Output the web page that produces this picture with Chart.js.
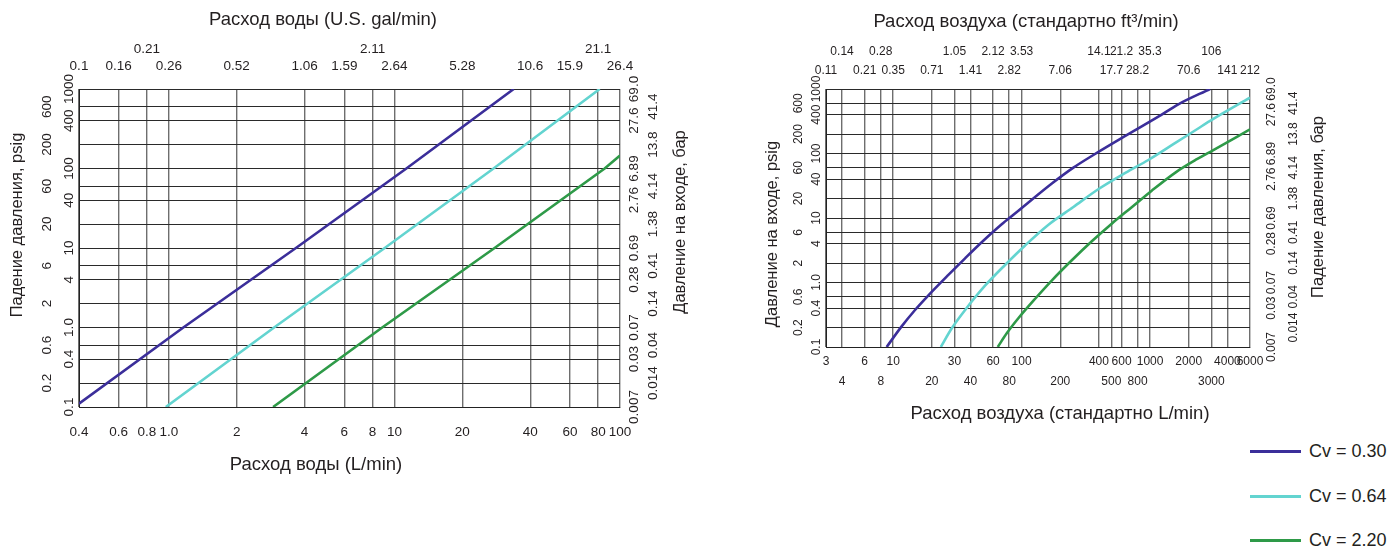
<!DOCTYPE html>
<html>
<head>
<meta charset="utf-8">
<script src="https://cdn.jsdelivr.net/npm/chart.js@4.4.0/dist/chart.umd.min.js"></script>
<style>
  body { margin: 0; background: #fff; width: 1393px; height: 551px; overflow: hidden; position: relative;
         font-family: "Liberation Sans", Arial, sans-serif; color: #231f20; }
  #waterChart { position: absolute; left: 0; top: 0; }
  #airChart { position: absolute; left: 700px; top: 0; }
  .leg { position: absolute; left: 1250px; height: 20px; font-size: 18px; line-height: 20px; white-space: nowrap; }
  .leg span.line { position: absolute; left: 0; top: 9px; width: 51px; height: 3px; }
  .leg span.txt { position: absolute; left: 59px; top: 0; }
</style>
</head>
<body>
<canvas id="waterChart" width="700" height="500"></canvas>
<canvas id="airChart" width="693" height="440"></canvas>
<div id="legend"></div>
<script>
const FONT = '"Liberation Sans", Arial, sans-serif';

// pressure axis (shared by both charts)
const psig = [0.1, 0.2, 0.4, 0.6, 1, 2, 4, 6, 10, 20, 40, 60, 100, 200, 400, 600, 1000];
const psigLabels = ['0.1','0.2','0.4','0.6','1.0','2','4','6','10','20','40','60','100','200','400','600','1000'];
const barLabels = ['0.007','0.014','0.03','0.04','0.07','0.14','0.28','0.41','0.69','1.38','2.76','4.14','6.89','13.8','27.6','41.4','69.0'];
const psigRows = [0,1,0,1,0,1,0,1,0,1,0,1,0,1,0,1,0]; // 0 = next to the plot

// water flow axis
const waterLpm = [0.4, 0.6, 0.8, 1, 2, 4, 6, 8, 10, 20, 40, 60, 80, 100];
const waterLpmLabels = ['0.4','0.6','0.8','1.0','2','4','6','8','10','20','40','60','80','100'];
const waterGpmLabels = ['0.1','0.16','0.21','0.26','0.52','1.06','1.59','2.11','2.64','5.28','10.6','15.9','21.1','26.4'];
const waterGpmRows = [0,0,1,0,0,0,0,1,0,0,0,0,1,0];

// air flow axis
const airLpm = [3, 4, 6, 8, 10, 20, 30, 40, 60, 80, 100, 200, 400, 500, 600, 800, 1000, 2000, 3000, 4000, 6000];
const airLpmLabels = ['3','4','6','8','10','20','30','40','60','80','100','200','400','500','600','800','1000','2000','3000','4000','6000'];
const airLpmRows = [0,1,0,1,0,1,0,1,0,1,0,1,0,1,0,1,0,0,1,0,0];
const airCfmLabels = ['0.11','0.14','0.21','0.28','0.35','0.71','1.05','1.41','2.12','2.82','3.53','7.06','14.1','17.7','21.2','28.2','35.3','70.6','106','141','212'];
const airCfmRows = [0,1,0,1,0,0,1,0,1,0,1,0,1,0,1,0,1,0,1,0,0];

// series
const seriesNames = ['Cv = 0.30', 'Cv = 0.64', 'Cv = 2.20'];
const seriesColors = ['#3b2e9a', '#63d4d0', '#2e9a48'];

// water: flow L/min vs pressure drop psig
const waterQ030 = [0.4, 1.16, 3.66, 11.3, 33.8];
const waterP030 = [0.11, 1, 10, 100, 1000];
const waterQ064 = [0.97, 2.93, 9.06, 27.5, 81.3];
const waterP064 = [0.1, 1, 10, 100, 1000];
const waterQ220 = [2.9, 8.83, 27.8, 85.5, 100];
const waterP220 = [0.1, 1, 10, 100, 146];

// air: flow std L/min vs inlet pressure psig
const airQ030 = [8.9, 11.6, 14.8, 18.2, 26.9, 36.3, 48.9, 70, 87.8, 173, 253, 362, 647, 1160, 1660, 2930];
const airP030 = [0.1, 0.207, 0.375, 0.59, 1.31, 2.37, 4.2, 7.98, 11.5, 34.5, 60.3, 94.8, 189, 372, 579, 1000];
const airQ064 = [23.5, 28.6, 36.7, 51.9, 74.3, 106, 161, 253, 395, 647, 970, 1585, 2335, 3110, 6000];
const airP064 = [0.1, 0.195, 0.385, 0.891, 1.87, 3.72, 7.79, 14.8, 27.9, 50.4, 79.3, 147, 240, 343, 733];
const airQ220 = [65.2, 76.6, 94.3, 127, 173, 246, 352, 503, 720, 1030, 1585, 2335, 3110, 6000];
const airP220 = [0.1, 0.163, 0.279, 0.555, 1.09, 2.21, 4.35, 8.16, 14.7, 26.5, 51.1, 82.2, 113, 237];

const pts = (xs, ys) => xs.map((x, i) => ({x: x, y: ys[i]}));

function makeSets(list, smooth) {
  return list.map((s, i) => ({
    label: seriesNames[i],
    data: pts(s[0], s[1]),
    showLine: true,
    borderColor: seriesColors[i],
    borderWidth: 2.6,
    pointRadius: 0,
    cubicInterpolationMode: smooth ? 'monotone' : 'default',
    tension: 0,
    fill: false
  }));
}

function logAxis(min, max, values, gridColor, gridWidth) {
  return {
    type: 'logarithmic',
    min: min,
    max: max,
    afterBuildTicks: (s) => { s.ticks = values.map(v => ({value: v})); },
    ticks: {display: false},
    grid: {color: gridColor, lineWidth: gridWidth, drawTicks: false},
    border: {color: '#222', width: 1}
  };
}

// draws the two-row tick labels and the axis titles
const axisText = {
  id: 'axisText',
  afterDraw(chart, args, o) {
    const ctx = chart.ctx;
    const xs = chart.scales.x, ys = chart.scales.y, a = chart.chartArea;
    ctx.save();
    ctx.fillStyle = '#231f20';
    ctx.textAlign = 'center';
    ctx.textBaseline = 'middle';
    ctx.font = o.tickFont + 'px ' + FONT;

    o.bottom.labels.forEach((t, i) => {
      const r = o.bottom.rows ? o.bottom.rows[i] : 0;
      ctx.fillText(t, xs.getPixelForValue(o.xValues[i]), a.bottom + o.bottom.off[r]);
    });
    o.top.labels.forEach((t, i) => {
      ctx.fillText(t, xs.getPixelForValue(o.xValues[i]), a.top - o.top.off[o.top.rows[i]]);
    });
    const vert = (t, x, y) => {
      ctx.save(); ctx.translate(x, y); ctx.rotate(-Math.PI / 2); ctx.fillText(t, 0, 0); ctx.restore();
    };
    psigLabels.forEach((t, i) => vert(t, a.left - o.left.off[psigRows[i]], ys.getPixelForValue(psig[i])));
    barLabels.forEach((t, i) => vert(t, a.right + o.right.off[psigRows[i]], ys.getPixelForValue(psig[i])));

    o.titles.forEach(tt => {
      ctx.font = (tt.rot ? 16.5 : 18.5) + 'px ' + FONT;
      if (tt.rot) vert(tt.text, tt.x, tt.y); else ctx.fillText(tt.text, tt.x, tt.y);
    });
    ctx.restore();
  }
};

function chartOptions(padding, xAxis, yAxis, text) {
  return {
    responsive: false,
    animation: false,
    layout: {padding: padding},
    scales: {x: xAxis, y: yAxis},
    plugins: {legend: {display: false}, tooltip: {enabled: false}, axisText: text}
  };
}

new Chart(document.getElementById('waterChart'), {
  type: 'scatter',
  data: {datasets: makeSets([[waterQ030, waterP030], [waterQ064, waterP064], [waterQ220, waterP220]], false)},
  options: chartOptions(
    {left: 79, top: 89, right: 80, bottom: 93},
    logAxis(0.4, 100, waterLpm, '#6e6e6e', 1.4),
    logAxis(0.1, 1000, psig, '#2a2a2a', 1),
    {
      tickFont: 13.5,
      xValues: waterLpm,
      bottom: {labels: waterLpmLabels, off: [25]},
      top: {labels: waterGpmLabels, rows: waterGpmRows, off: [23, 40]},
      left: {off: [10, 32]},
      right: {off: [14, 33]},
      titles: [
        {text: 'Расход воды (U.S. gal/min)', x: 323, y: 20},
        {text: 'Расход воды (L/min)', x: 316, y: 465},
        {text: 'Падение давления, psig', x: 17, y: 225, rot: true},
        {text: 'Давление на входе, бар', x: 680, y: 222, rot: true}
      ]
    }),
  plugins: [axisText]
});

new Chart(document.getElementById('airChart'), {
  type: 'scatter',
  data: {datasets: makeSets([[airQ030, airP030], [airQ064, airP064], [airQ220, airP220]], true)},
  options: chartOptions(
    {left: 126, top: 89, right: 143, bottom: 93},
    logAxis(3, 6000, airLpm, '#6e6e6e', 1.4),
    logAxis(0.1, 1000, psig, '#2a2a2a', 1),
    {
      tickFont: 12,
      xValues: airLpm,
      bottom: {labels: airLpmLabels, rows: airLpmRows, off: [15, 35]},
      top: {labels: airCfmLabels, rows: airCfmRows, off: [18, 37]},
      left: {off: [9, 27]},
      right: {off: [22, 44]},
      titles: [
        {text: 'Расход воздуха (стандартно ft³/min)', x: 326, y: 22},
        {text: 'Расход воздуха (стандартно L/min)', x: 360, y: 414},
        {text: 'Давление на входе, psig', x: 72, y: 234, rot: true},
        {text: 'Падение давления, бар', x: 618, y: 207, rot: true}
      ]
    }),
  plugins: [axisText]
});

// legend in the lower right corner
const legend = document.getElementById('legend');
const legendTops = [441, 486, 530];
seriesNames.forEach((name, i) => {
  const d = document.createElement('div');
  d.className = 'leg';
  d.style.top = legendTops[i] + 'px';
  d.innerHTML = '<span class="line" style="background:' + seriesColors[i] + '"></span><span class="txt">' + name + '</span>';
  legend.appendChild(d);
});
</script>
</body>
</html>
